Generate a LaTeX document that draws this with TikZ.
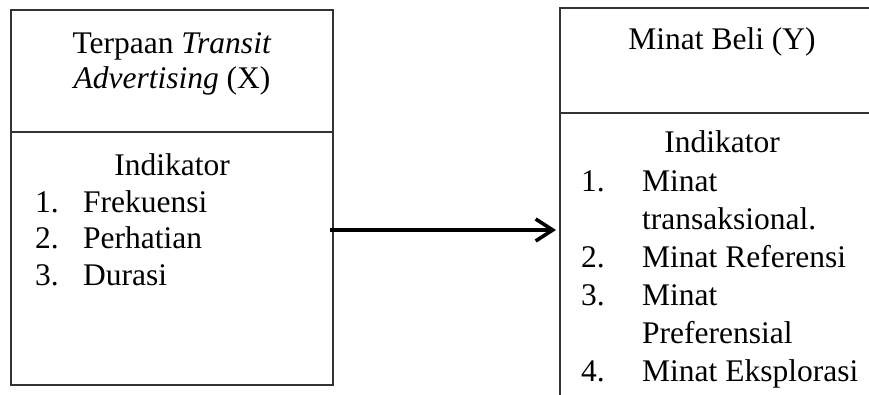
\documentclass[tikz,border=0pt]{standalone}
\usepackage{fontspec}
\setmainfont{Liberation Serif}
\usetikzlibrary{arrows.meta}
\begin{document}
\begin{tikzpicture}[x=1pt,y=-1pt,
  boxline/.style={draw=black!80,line width=1.1pt},
  txt/.style={inner sep=0pt,font=\fontsize{31.5}{38}\selectfont},
  lbl/.style={txt,anchor=base},
  item/.style={txt,anchor=base west},
  flow/.style={line width=3.6pt,-{Straight Barb[length=17pt,width=22pt,line width=3.6pt]}}]
\useasboundingbox (0,0) rectangle (869,394);
\clip (0,0) rectangle (869,394);
% variable X
\draw[boxline] (11,10) rectangle (333,385);
\draw[boxline] (11,132) -- (333,132);
\node[lbl] (xt1) at (172,53) {Terpaan \textit{Transit}};
\node[lbl] (xt2) at (172,88) {\textit{Advertising} (X)};
\node[lbl] (xind) at (172,175) {Indikator};
\node[item] (xn1) at (35,212) {1.};
\node[item] (xi1) at (83,212) {Frekuensi};
\node[item] (xn2) at (35,248.5) {2.};
\node[item] (xi2) at (83,248.5) {Perhatian};
\node[item] (xn3) at (35,285) {3.};
\node[item] (xi3) at (83,285) {Durasi};
% variable Y
\draw[boxline] (885,8) -- (560,8) -- (560,400);
\draw[boxline] (560,113) -- (885,113);
\node[lbl] (yt) at (722,49) {Minat Beli (Y)};
\node[lbl] (yind) at (722,152) {Indikator};
\node[item] (yn1) at (581,191) {1.};
\node[item] (yi1) at (642,191) {Minat};
\node[item] (yi1b) at (642,229) {transaksional.};
\node[item] (yn2) at (581,267) {2.};
\node[item] (yi2) at (642,267) {Minat Referensi};
\node[item] (yn3) at (581,305) {3.};
\node[item] (yi3) at (642,305) {Minat};
\node[item] (yi3b) at (642,343) {Preferensial};
\node[item] (yn4) at (581,381) {4.};
\node[item] (yi4) at (642,381) {Minat Eksplorasi};
% relation X -> Y
\coordinate (from) at (330,230);
\coordinate (to) at (556,230);
\draw[flow] (from) -- (to);
\end{tikzpicture}
\end{document}
